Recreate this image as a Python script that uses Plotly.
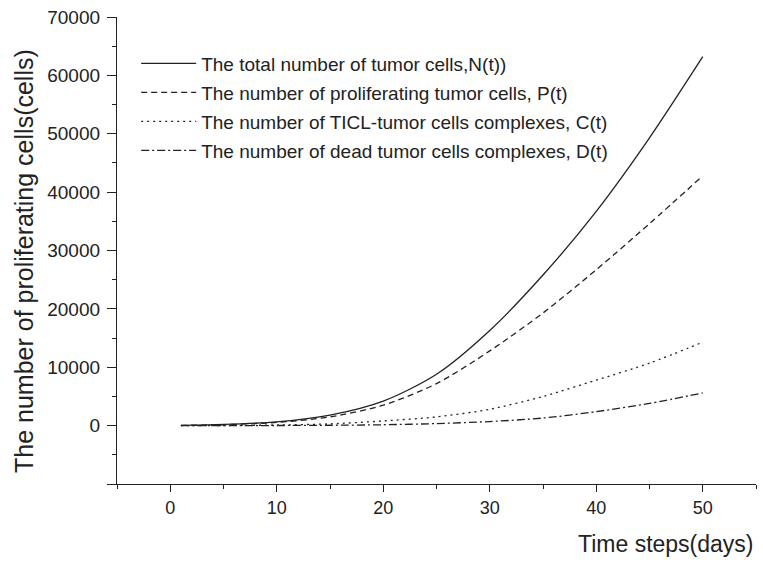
import plotly.graph_objects as go

t = [1, 5, 10, 15, 20, 25, 30, 35, 40, 45, 50]
N_total = [50, 200, 650, 1800, 4200, 8800, 16300, 25800, 36700, 49300, 63200]
P_prolif = [50, 150, 550, 1500, 3500, 7200, 12800, 19300, 26700, 34600, 42800]
C_complex = [0, 20, 100, 300, 800, 1500, 2800, 5000, 7800, 10700, 14300]
D_dead = [0, 5, 20, 60, 150, 350, 700, 1300, 2400, 3800, 5600]

names = [
    "The total number of tumor cells,N(t))",
    "The number of proliferating tumor cells, P(t)",
    "The number of TICL-tumor cells complexes, C(t)",
    "The number of dead tumor cells complexes, D(t)",
]
series = [N_total, P_prolif, C_complex, D_dead]
dashes = ["solid", "6px,4px", "2px,4px", "8px,3px,2px,3px"]

x_ticks = [0, 10, 20, 30, 40, 50]
y_ticks = [-10000, 0, 10000, 20000, 30000, 40000, 50000, 60000, 70000]
y_ticktext = ["", "0", "10000", "20000", "30000", "40000", "50000", "60000", "70000"]

ink = "#222222"
fig = go.Figure()
for i, (nm, ys, ds) in enumerate(zip(names, series, dashes)):
    fig.add_trace(go.Scatter(
        x=t, y=ys, mode="lines", name=nm, legendgroup=f"g{i}",
        line=dict(color=ink, width=1.3, dash=ds, shape="spline", smoothing=0.8),
    ))

fig.update_layout(
    width=763, height=562,
    margin=dict(l=117, r=7, t=15, b=78),
    paper_bgcolor="white", plot_bgcolor="white",
    font=dict(family="Liberation Sans, Arial, sans-serif", color=ink),
    showlegend=True,
    legend=dict(
        x=0.03, y=0.941, xanchor="left", yanchor="top",
        font=dict(size=19, color=ink), bgcolor="rgba(0,0,0,0)",
        traceorder="grouped", tracegroupgap=1.3, itemwidth=55,
    ),
    xaxis=dict(
        range=[-5, 55], tickmode="array", tickvals=x_ticks,
        ticks="outside", ticklen=7, tickwidth=1.3, tickcolor=ink,
        showline=True, linecolor=ink, linewidth=1.3,
        showgrid=False, zeroline=False,
        tickfont=dict(size=18, color=ink),
        minor=dict(tickmode="linear", tick0=-5, dtick=5, ticks="outside", ticklen=4, tickcolor=ink, tickwidth=1.3),
    ),
    yaxis=dict(
        range=[-10000, 70000], tickmode="array", tickvals=y_ticks, ticktext=y_ticktext,
        ticks="outside", ticklen=9, tickwidth=1.3, tickcolor=ink,
        showline=True, linecolor=ink, linewidth=1.3,
        showgrid=False, zeroline=False,
        tickfont=dict(size=19, color=ink), ticklabelstandoff=3,
        minor=dict(tickmode="linear", tick0=0, dtick=5000, ticks="outside", ticklen=4, tickcolor=ink, tickwidth=1.3),
    ),
    annotations=[
        dict(
            text="Time steps(days)", xref="paper", yref="paper", x=1.0, y=-0.128,
            xanchor="right", yanchor="middle", showarrow=False,
            font=dict(size=23, color=ink),
        ),
        dict(
            text="The number of proliferating cells(cells)", xref="paper", yref="paper",
            x=-0.1455, y=0.4776, xanchor="center", yanchor="middle", textangle=-90,
            showarrow=False, font=dict(size=25, color=ink),
        ),
    ],
)

fig.write_html("out.html")
